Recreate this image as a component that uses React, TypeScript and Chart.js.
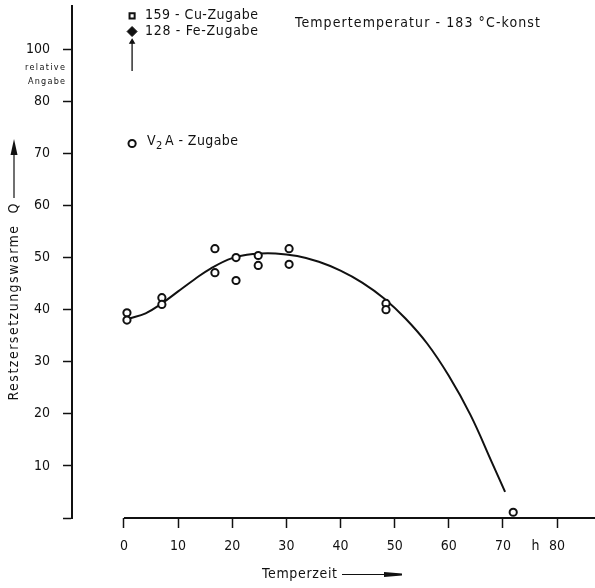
import { useEffect, useRef } from 'react';
import { Chart, registerables } from 'chart.js';

Chart.register(...registerables);

const FONT = '"Liberation Sans Narrow", "DejaVu Sans Condensed", "Roboto Condensed", "Liberation Sans", sans-serif';

// measured points (Temperzeit h, Restzersetzungswärme Q)
const hours = [0.55, 0.55, 7, 7, 16.8, 16.8, 20.7, 20.7, 24.8, 24.8, 30.5, 30.5, 48.4, 48.4, 71.9];
const heat = [39.4, 38.0, 42.3, 41.0, 51.7, 47.1, 50.0, 45.6, 50.4, 48.5, 51.7, 48.7, 41.2, 40.0, 1.1];

// hand-drawn fitted curve
const curveHours = [1, 4, 7, 10, 13, 16, 20, 24, 28, 32, 36, 40, 44, 48, 52, 56, 60, 64, 68, 70.4];
const curveHeat = [38.3, 39.3, 41.2, 43.5, 45.8, 47.9, 49.9, 50.7, 50.8, 50.3, 49.2, 47.5, 45.2, 42.2, 38.3, 33.5, 27.3, 19.8, 10.6, 5.0];

// off-scale additions (relative values) and legend symbol
const cuMarker = [{ x: 1.5, y: 96.4 }];
const feMarker = [{ x: 1.5, y: 93.4 }];
const offScaleArrow = [{ x: 1.5, y: 85.8 }, { x: 1.5, y: 91.4 }];
const v2aMarker = [{ x: 1.5, y: 71.9 }];

const xTicks = [0, 10, 20, 30, 40, 50, 60, 70, 76, 80];
const xTickLabels = ['0', '10', '20', '30', '40', '50', '60', '70', 'h', '80'];
const yTicks = [0, 10, 20, 30, 40, 50, 60, 70, 80, 90];
const yTickLabels = ['', '10', '20', '30', '40', '50', '60', '70', '80', '100'];

function fitText(ctx: CanvasRenderingContext2D, text: string, x: number, y: number, w: number, size: number, align: 'left' | 'center' = 'left') {
  ctx.font = `${size}px ${FONT}`;
  (ctx as any).letterSpacing = '0px';
  const m = ctx.measureText(text).width;
  const ls = (w - m) / Math.max(1, text.length - 1);
  (ctx as any).letterSpacing = ls.toFixed(2) + 'px';
  ctx.textBaseline = 'middle';
  ctx.textAlign = 'left';
  const sx = align === 'center' ? x - w / 2 : x;
  ctx.fillText(text, sx, y);
  (ctx as any).letterSpacing = '0px';
}

const overlay = {
  id: 'overlay',
  afterDraw(chart: any) {
    const ctx: CanvasRenderingContext2D = chart.ctx;
    const xs = chart.scales.x;
    const ys = chart.scales.y;
    ctx.save();
    ctx.fillStyle = '#111';
    ctx.strokeStyle = '#111';
    // x axis line, starting at 0 h
    const y0 = ys.getPixelForValue(0);
    ctx.lineWidth = 2;
    ctx.beginPath();
    ctx.moveTo(xs.getPixelForValue(0), y0);
    ctx.lineTo(chart.width, y0);
    ctx.stroke();

    // x title
    fitText(ctx, 'Temperzeit', 262, 574, 75, 14);
    ctx.lineWidth = 1.2;
    ctx.beginPath();
    ctx.moveTo(342, 574.5);
    ctx.lineTo(388, 574.5);
    ctx.stroke();
    ctx.beginPath();
    ctx.moveTo(384, 572);
    ctx.lineTo(402, 573.5);
    ctx.lineTo(402, 575.5);
    ctx.lineTo(384, 577);
    ctx.closePath();
    ctx.fill();

    // y title (rotated)
    ctx.save();
    ctx.translate(14, 302);
    ctx.rotate(-Math.PI / 2);
    fitText(ctx, 'Restzersetzungswarme  Q', 0, 0, 197, 14, 'center');
    ctx.restore();
    ctx.lineWidth = 1.2;
    ctx.beginPath();
    ctx.moveTo(14, 198);
    ctx.lineTo(14, 150);
    ctx.stroke();
    ctx.beginPath();
    ctx.moveTo(14, 139);
    ctx.lineTo(10.5, 155);
    ctx.lineTo(17.5, 155);
    ctx.closePath();
    ctx.fill();

    // relative Angabe
    fitText(ctx, 'relative', 25, 68, 40, 9);
    fitText(ctx, 'Angabe', 28, 82, 37, 9);

    // annotations
    fitText(ctx, 'Tempertemperatur - 183 °C-konst', 295, 23, 245, 14);
    fitText(ctx, '159 - Cu-Zugabe', 145, 15, 113, 14);
    fitText(ctx, '128 - Fe-Zugabe', 145, 31, 113, 14);
    fitText(ctx, 'V', 147, 141, 8, 14);
    fitText(ctx, '2', 156, 146, 6, 11);
    fitText(ctx, 'A - Zugabe', 165, 141, 73, 14);
    ctx.restore();
  },
};

export default function App() {
  const ref = useRef<HTMLCanvasElement>(null);
  useEffect(() => {
    if (!ref.current) return;
    const points = hours.map((h, i) => ({ x: h, y: heat[i] }));
    const curve = curveHours.map((h, i) => ({ x: h, y: curveHeat[i] }));
    const chart = new Chart(ref.current, {
      type: 'scatter',
      data: {
        datasets: [
          {
            label: 'V2A-Zugabe',
            data: points,
            pointStyle: 'circle',
            pointRadius: 3.6,
            pointBorderWidth: 2,
            pointBorderColor: '#111',
            pointBackgroundColor: '#fff',
            showLine: false,
          } as any,
          {
            label: 'Cu',
            data: cuMarker,
            pointStyle: 'rect',
            pointRadius: 3.6,
            pointBorderWidth: 2,
            pointBorderColor: '#111',
            pointBackgroundColor: '#fff',
          },
          {
            label: 'Fe',
            data: feMarker,
            pointStyle: 'rectRot',
            pointRadius: 5,
            pointBorderWidth: 1,
            pointBorderColor: '#111',
            pointBackgroundColor: '#111',
          },
          {
            label: 'V2A legend',
            data: v2aMarker,
            pointStyle: 'circle',
            pointRadius: 3.6,
            pointBorderWidth: 2,
            pointBorderColor: '#111',
            pointBackgroundColor: '#fff',
          },
          {
            label: 'arrow',
            data: offScaleArrow,
            showLine: true,
            borderColor: '#111',
            borderWidth: 1.3,
            pointStyle: 'triangle',
            pointRadius: (c: any) => (c.dataIndex === 1 ? 2.5 : 0),
            pointBorderColor: '#111',
            pointBackgroundColor: '#111',
          } as any,
          {
            label: 'curve',
            data: curve,
            showLine: true,
            borderColor: '#111',
            borderWidth: 2,
            pointRadius: 0,
            tension: 0.4,
          } as any,
        ],
      },
      options: {
        responsive: false,
        animation: false,
        devicePixelRatio: 1,
        clip: false,
        layout: { padding: { top: 5, left: 0, right: 0, bottom: 0 } },
        plugins: { legend: { display: false }, tooltip: { enabled: false } },
        scales: {
          x: {
            type: 'linear',
            min: -9.6,
            max: 85.9,
            afterBuildTicks: (s: any) => {
              s.ticks = xTicks.map((v) => ({ value: v }));
            },
            afterFit: (s: any) => {
              s.height = 70;
              s.paddingLeft = 0;
              s.paddingRight = 0;
              s.paddingTop = 0;
              s.paddingBottom = 0;
            },
            border: { display: false },
            grid: {
              drawOnChartArea: false,
              drawTicks: true,
              tickLength: 10,
              tickWidth: 1.5,
              tickColor: (c: any) => (c.tick && c.tick.value === 76 ? 'rgba(0,0,0,0)' : '#111'),
            },
            ticks: {
              autoSkip: false,
              maxRotation: 0,
              padding: 10,
              color: '#111',
              font: { family: FONT, size: 14 },
              callback: (v: any) => {
                const i = xTicks.indexOf(Number(v));
                return i >= 0 ? xTickLabels[i] : '';
              },
            },
          },
          y: {
            type: 'linear',
            min: 0,
            max: 98.3,
            afterBuildTicks: (s: any) => {
              s.ticks = yTicks.map((v) => ({ value: v }));
            },
            afterFit: (s: any) => {
              s.width = 72;
              s.paddingLeft = 0;
              s.paddingRight = 0;
              s.paddingTop = 0;
              s.paddingBottom = 0;
            },
            border: { display: true, color: '#111', width: 2 },
            grid: {
              drawOnChartArea: false,
              drawTicks: true,
              tickLength: 9,
              tickWidth: 1.5,
              tickColor: '#111',
            },
            ticks: {
              autoSkip: false,
              padding: 13,
              color: '#111',
              font: { family: FONT, size: 14 },
              callback: (v: any) => {
                const i = yTicks.indexOf(Number(v));
                return i >= 0 ? yTickLabels[i] : '';
              },
            },
          },
        },
      } as any,
      plugins: [overlay],
    });
    return () => chart.destroy();
  }, []);
  return (
    <div style={{ position: 'absolute', left: 0, top: 0, width: 595, height: 588, background: '#fff' }}>
      <canvas ref={ref} width={595} height={588} style={{ display: 'block', width: 595, height: 588 }} />
    </div>
  );
}
